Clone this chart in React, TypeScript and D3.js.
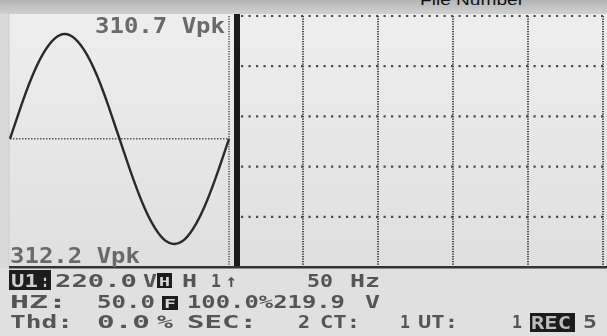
import React from "react";
import * as d3 from "d3";

// Waveform samples (one 50 Hz cycle)
const timeMs = [0, 1, 2, 3, 4, 5, 6, 7, 8, 9, 10, 11, 12, 13, 14, 15, 16, 17, 18, 19, 20];
const voltage = [0, 96, 183, 251, 295, 310.7, 295, 251, 183, 96, 0, -96, -183, -252, -297, -312.2, -297, -252, -183, -96, 0];

// Peak labels
const peakTop = "310.7 Vpk";
const peakBottom = "312.2 Vpk";

// Grid divisions of the right (empty) panel
const gridCols = [1, 2, 3, 4, 5];
const gridRows = [0, 1, 2, 3, 4];

const W = 607;
const H = 336;
const FONT = "'DejaVu Sans Mono', 'Liberation Mono', monospace";

function T(props: { x: number; y: number; w: number; fs?: number; fill?: string; bold?: boolean; children: React.ReactNode }) {
  const { x, y, w, fs = 18, fill = "#555", bold = true, children } = props;
  return (
    <text
      x={x}
      y={y}
      textLength={w}
      lengthAdjust="spacingAndGlyphs"
      fontFamily={FONT}
      fontSize={fs}
      fontWeight={bold ? "bold" : "normal"}
      fill={fill}
      filter="url(#soft)"
    >
      {children}
    </text>
  );
}

export default function App() {
  const x = d3.scaleLinear().domain([0, 20]).range([10, 229]);
  const y = d3.scaleLinear().domain([-312.2, 310.7]).range([244, 34]);
  const line = d3
    .line<number>()
    .x((_, i) => x(timeMs[i]))
    .y((d) => y(d))
    .curve(d3.curveNatural);

  const gx = d3.scaleLinear().domain([0, 5]).range([229, 604]);
  const gy = d3.scaleLinear().domain([0, 5]).range([16, 267]);

  return (
    <svg width={W} height={H} style={{ position: "absolute", left: 0, top: 0 }}>
      <defs>
        <linearGradient id="topband" x1="0" y1="0" x2="0" y2="1">
          <stop offset="0" stopColor="#b5b5b5" />
          <stop offset="1" stopColor="#d0d0d0" />
        </linearGradient>
        <linearGradient id="screen" x1="0" y1="0" x2="0" y2="1">
          <stop offset="0" stopColor="#eeeeee" />
          <stop offset="1" stopColor="#dfdfdf" />
        </linearGradient>
        <filter id="soft" x="-5%" y="-5%" width="110%" height="110%">
          <feGaussianBlur stdDeviation="0.45" />
        </filter>
      </defs>
      {/* backgrounds */}
      <rect x={0} y={0} width={W} height={H} fill="#e0e0e0" />
      <rect x={0} y={14} width={W} height={254} fill="url(#screen)" />
      <rect x={0} y={14} width={9} height={254} fill="#dadada" />
      <line x1={9} y1={14} x2={9} y2={268} stroke="#cdcdcd" strokeWidth={1} />
      <rect x={0} y={0} width={W} height={14} fill="url(#topband)" />
      <text x={420} y={5} fontFamily="'Liberation Sans', Arial, sans-serif" fontSize={14} fill="#111" textLength={104} lengthAdjust="spacingAndGlyphs">
        File Number
      </text>

      {/* grid of right panel */}
      <g stroke="#4a4a4a" fill="none">
        {gridRows.map((r) => (
          <line key={"h" + r} x1={241} x2={603} y1={gy(r)} y2={gy(r)} strokeWidth={2.2} strokeDasharray="2.2 5.3" />
        ))}
        {gridCols.map((c) => (
          <line key={"v" + c} x1={gx(c) - 1} x2={gx(c) - 1} y1={16} y2={266} strokeWidth={2} strokeDasharray="1.3 1.2" />
        ))}
        <line x1={229} x2={229} y1={16} y2={266} strokeWidth={2} stroke="#777" strokeDasharray="1.3 1.2" />
      </g>

      {/* center line of waveform panel */}
      <line x1={10} x2={228} y1={y(0)} y2={y(0)} stroke="#555" strokeWidth={1.6} strokeDasharray="1.5 1.5" />

      {/* waveform */}
      <path d={line(voltage) || ""} fill="none" stroke="#2a2a2a" strokeWidth={2.4} filter="url(#soft)" />

      {/* thick divider bar */}
      <rect x={234} y={14} width={6} height={254} fill="#1a1a1a" />

      {/* bottom divider line */}
      <rect x={9} y={266} width={598} height={2.5} fill="#333" />

      {/* peak labels */}
      <T x={95} y={33} w={130} fs={22} fill="#6a6a6a">{peakTop}</T>
      <T x={10} y={263} w={130} fs={22} fill="#6a6a6a">{peakBottom}</T>

      {/* status row 1 */}
      <rect x={9} y={270} width={42} height={20} fill="#1c1c1c" />
      <T x={11} y={287} w={27} fill="#cfcfcf">U1</T>
      <T x={41} y={287} w={8} fill="#cfcfcf">:</T>
      <T x={55} y={287} w={82}>220.0</T>
      <T x={143} y={287} w={14}>V</T>
      <rect x={157} y={273} width={15} height={15} fill="#1c1c1c" />
      <T x={159} y={286} w={11} fs={13} fill="#d8d8d8">H</T>
      <T x={182} y={287} w={15}>H</T>
      <T x={211} y={287} w={10}>1</T>
      <T x={226} y={287} w={11}>↑</T>
      <T x={307} y={287} w={26}>50</T>
      <T x={350} y={287} w={30}>Hz</T>

      {/* status row 2 */}
      <T x={10} y={308} w={57}>HZ:</T>
      <T x={97} y={308} w={58}>50.0</T>
      <rect x={162} y={296} width={16} height={14} fill="#1c1c1c" />
      <T x={164} y={308} w={12} fs={13} fill="#d8d8d8">F</T>
      <T x={187} y={308} w={158}>100.0%219.9</T>
      <T x={365} y={308} w={15}>V</T>

      {/* status row 3 */}
      <T x={10} y={328} w={63}>Thd:</T>
      <T x={97} y={328} w={53}>0.0</T>
      <T x={157} y={328} w={16}>%</T>
      <T x={187} y={328} w={70}>SEC:</T>
      <T x={298} y={328} w={12}>2</T>
      <T x={320} y={328} w={40}>CT:</T>
      <T x={400} y={328} w={10}>1</T>
      <T x={418} y={328} w={40}>UT:</T>
      <T x={512} y={328} w={10}>1</T>
      <rect x={530} y={313} width={45} height={19} fill="#1c1c1c" />
      <T x={531} y={329} w={40} fill="#bdbdbd">REC</T>
      <T x={583} y={328} w={14}>5</T>
    </svg>
  );
}
